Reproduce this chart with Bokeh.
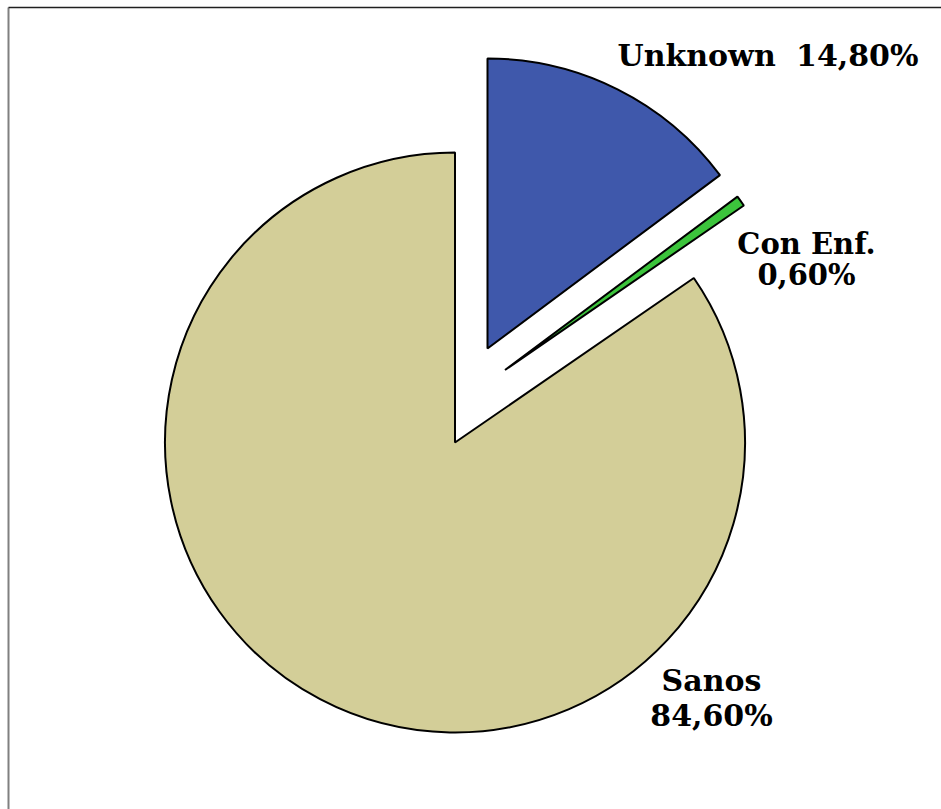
import math
from bokeh.plotting import figure
from bokeh.models import Range1d, ColumnDataSource
from bokeh.core.properties import value
from bokeh.embed import file_html
from bokeh.resources import INLINE

# ---- data ----
categories = ["Unknown", "Con Enf.", "Sanos"]
percents = [14.80, 0.60, 84.60]
colors = ["#3F58AB", "#3CC43C", "#D3CE98"]

# ---- layout (screen pixels) ----
W, H = 941, 809
R = 290
base_center = (454.5, 442.0)
explode = {"Unknown": (32.5, -94.0), "Con Enf.": (50.0, -72.5), "Sanos": (0.0, 0.0)}

def sy(y):
    return H - y

total = sum(percents)
xs, ys, starts, ends = [], [], [], []
cum = 0.0
for cat, pct in zip(categories, percents):
    c0 = cum / total
    cum += pct
    c1 = cum / total
    dx, dy = explode[cat]
    xs.append(base_center[0] + dx)
    ys.append(sy(base_center[1] + dy))
    starts.append(math.radians(90 - 360 * c1))
    ends.append(math.radians(90 - 360 * c0))

src = ColumnDataSource(dict(x=xs, y=ys, start=starts, end=ends, color=colors, cat=categories))

p = figure(width=W, height=H, x_range=Range1d(0, W), y_range=Range1d(0, H),
           output_backend="svg", toolbar_location=None, min_border=0)
p.axis.visible = False
p.grid.visible = False
p.outline_line_color = None
p.background_fill_color = "white"
p.border_fill_color = "white"

# frame (partially visible border)
p.line([8, 8], [sy(809), sy(7)], line_color="#808080", line_width=2)
p.line([8, 941], [sy(7), sy(7)], line_color="#202020", line_width=1.5)

p.wedge(x="x", y="y", radius=R, start_angle="start", end_angle="end", direction="anticlock",
        fill_color="color", line_color="black", line_width=2, source=src)

def fmt(v):
    return f"{v:.2f}%".replace(".", ",")

labels = {c: fmt(v) for c, v in zip(categories, percents)}

font = value("DejaVu Serif")
common = dict(text_font=font, text_font_style="bold", text_baseline="alphabetic", text_color="black")
# Unknown label: name and value on one line
p.text(x=[617], y=[sy(55)], text=["Unknown"], text_font_size="30px", text_align="left", **common)
p.text(x=[918], y=[sy(55)], text=[labels["Unknown"]], text_font_size="30px", text_align="right", **common)
# Con Enf. label
p.text(x=[806, 806], y=[sy(243), sy(274)], text=["Con Enf.", labels["Con Enf."]],
       text_font_size="29px", text_align="center", **common)
# Sanos label
p.text(x=[711, 711], y=[sy(680), sy(715)], text=["Sanos", labels["Sanos"]],
       text_font_size="30px", text_align="center", **common)

open("out.html", "w").write(file_html(p, INLINE))
